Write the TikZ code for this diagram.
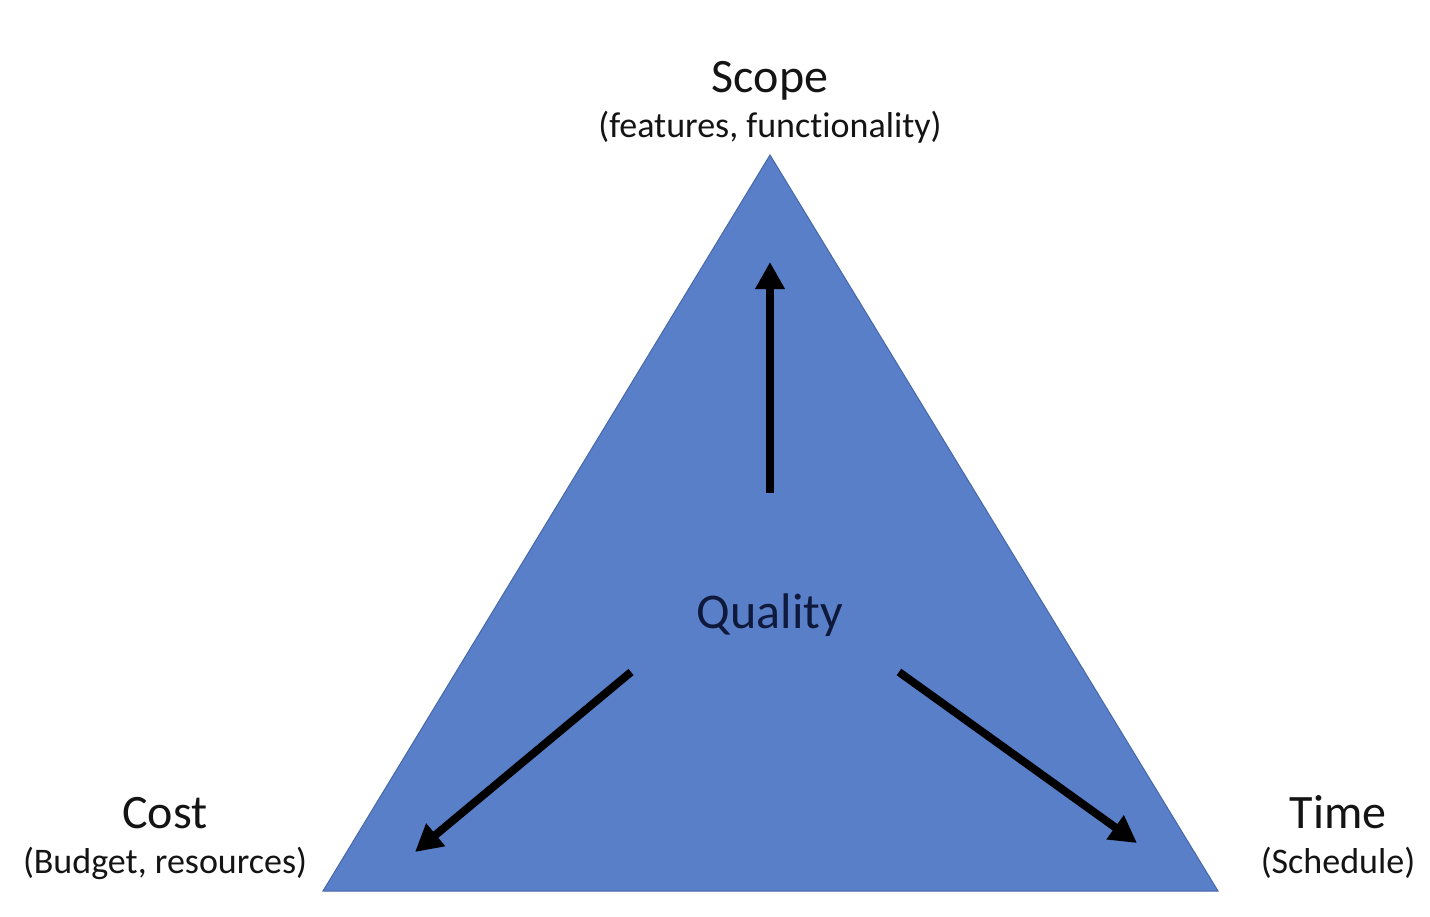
\documentclass[tikz,border=0pt]{standalone}
\usepackage{fontspec}
\setmainfont[Ligatures=NoCommon]{Carlito}
\usetikzlibrary{arrows.meta}
\definecolor{triblue}{RGB}{89,127,200}
\definecolor{triedge}{RGB}{70,104,170}
\definecolor{txt}{RGB}{20,20,20}
\definecolor{qtxt}{RGB}{15,25,60}
\tikzset{
  title/.style={anchor=base, font=\fontsize{48}{52}\selectfont, text=txt, inner sep=0pt},
  sub/.style={anchor=base, font=\fontsize{36}{40}\selectfont, text=txt, inner sep=0pt},
  force/.style={line width=8pt, draw=black, -{Triangle[width=28pt,length=27pt]}}
}
\begin{document}
\begin{tikzpicture}[x=1pt,y=-1pt]
\useasboundingbox (0,0) rectangle (1430,916);
\fill[white] (0,0) rectangle (1430,916);
\coordinate (top) at (770,155);
\coordinate (bl) at (323,891);
\coordinate (br) at (1218,891);
\filldraw[fill=triblue, draw=triedge, line width=1pt] (top) -- (bl) -- (br) -- cycle;
\node[title] (scope) at (770,92) {Scope};
\node[sub] (scopesub) at (770,137) {(features, functionality)};
\node[title] (cost) at (165,828) {Cost};
\node[sub] (costsub) at (165,873) {(Budget, resources)};
\node[title] (time) at (1338,828) {Time};
\node[sub] (timesub) at (1338,873) {(Schedule)};
\node[title, text=qtxt, font=\fontsize{50}{54}\selectfont] (quality) at (770,628) {Quality};
\coordinate (upS) at (770,493);
\coordinate (upE) at (770,262);
\coordinate (lS) at (631,672);
\coordinate (lE) at (415,852);
\coordinate (rS) at (899,672);
\coordinate (rE) at (1137,843);
\draw[force] (upS) -- (upE);
\draw[force] (lS) -- (lE);
\draw[force] (rS) -- (rE);
\end{tikzpicture}
\end{document}
